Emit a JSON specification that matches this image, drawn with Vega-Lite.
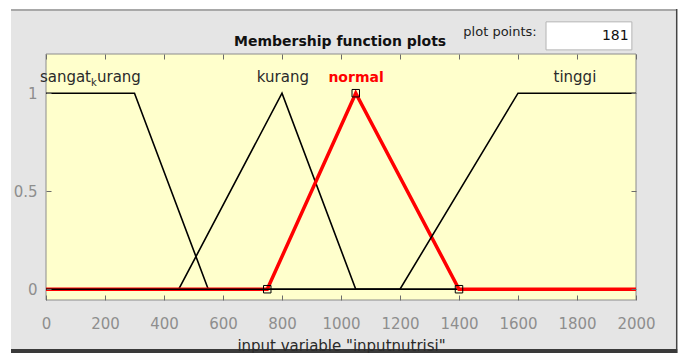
{
  "$schema": "https://vega.github.io/schema/vega-lite/v6.json",
  "width": 590,
  "height": 246,
  "autosize": {"type": "none"},
  "padding": {"left": 46, "top": 54, "right": 47, "bottom": 53},
  "background": "white",
  "config": {
    "view": {"stroke": null},
    "font": "DejaVu Sans",
    "axis": {
      "labelFont": "DejaVu Sans",
      "titleFont": "DejaVu Sans",
      "grid": false,
      "domain": false,
      "tickColor": "#6b6b6b",
      "tickWidth": 1,
      "tickSize": -5,
      "labelColor": "#8e8e8e",
      "labelFontSize": 15,
      "labelFlush": false,
      "labelOverlap": false
    }
  },
  "datasets": {
    "mf": [
      {"name": "sangat_kurang", "x": 0, "y": 1},
      {"name": "sangat_kurang", "x": 300, "y": 1},
      {"name": "sangat_kurang", "x": 550, "y": 0},
      {"name": "sangat_kurang", "x": 2000, "y": 0},
      {"name": "kurang", "x": 0, "y": 0},
      {"name": "kurang", "x": 450, "y": 0},
      {"name": "kurang", "x": 800, "y": 1},
      {"name": "kurang", "x": 1050, "y": 0},
      {"name": "kurang", "x": 2000, "y": 0},
      {"name": "normal", "x": 0, "y": 0},
      {"name": "normal", "x": 750, "y": 0},
      {"name": "normal", "x": 1050, "y": 1},
      {"name": "normal", "x": 1400, "y": 0},
      {"name": "normal", "x": 2000, "y": 0},
      {"name": "tinggi", "x": 0, "y": 0},
      {"name": "tinggi", "x": 1200, "y": 0},
      {"name": "tinggi", "x": 1600, "y": 1},
      {"name": "tinggi", "x": 2000, "y": 1}
    ],
    "labels": [
      {"name": "kurang", "x": 803},
      {"name": "tinggi", "x": 1793}
    ],
    "one": [{}]
  },
  "data": {"name": "mf"},
  "resolve": {"axis": {"x": "independent", "y": "independent"}},
  "layer": [
    {
      "data": {"name": "one"},
      "mark": {"type": "rect", "fill": "#e5e5e5", "clip": false},
      "encoding": {
        "x": {"datum": -118.6, "type": "quantitative", "scale": {"domain": [0, 2000], "nice": false, "zero": false}, "axis": null},
        "x2": {"datum": 2135.6},
        "y": {"datum": -0.305, "type": "quantitative", "scale": {"domain": [-0.055, 1.2], "nice": false, "zero": false}, "axis": null},
        "y2": {"datum": 1.425}
      }
    },
    {
      "data": {"name": "one"},
      "mark": {"type": "rect", "fill": "#3a3a3a", "clip": false},
      "encoding": {
        "x": {"datum": -118.6, "type": "quantitative", "scale": {"domain": [0, 2000], "nice": false, "zero": false}, "axis": null},
        "x2": {"datum": 2141},
        "y": {"datum": -0.36, "type": "quantitative", "scale": {"domain": [-0.055, 1.2], "nice": false, "zero": false}, "axis": null},
        "y2": {"datum": -0.305}
      }
    },
    {
      "data": {"name": "one"},
      "mark": {"type": "rule", "stroke": "#a8a8a8", "strokeWidth": 2, "clip": false},
      "encoding": {
        "x": {"datum": -118.6, "type": "quantitative", "scale": {"domain": [0, 2000], "nice": false, "zero": false}, "axis": null},
        "x2": {"datum": 2135.6},
        "y": {"datum": 1.425, "type": "quantitative", "scale": {"domain": [-0.055, 1.2], "nice": false, "zero": false}, "axis": null}
      }
    },
    {
      "data": {"name": "one"},
      "mark": {"type": "rule", "stroke": "#444444", "strokeWidth": 1.5, "clip": false},
      "encoding": {
        "x": {"datum": 2138, "type": "quantitative", "scale": {"domain": [0, 2000], "nice": false, "zero": false}, "axis": null},
        "y": {"datum": -0.305, "type": "quantitative", "scale": {"domain": [-0.055, 1.2], "nice": false, "zero": false}, "axis": null},
        "y2": {"datum": 1.43}
      }
    },
    {
      "data": {"name": "one"},
      "mark": {"type": "rect", "fill": "white", "stroke": "#b4b4b4", "strokeWidth": 1, "clip": false},
      "encoding": {
        "x": {"datum": 1695, "type": "quantitative", "scale": {"domain": [0, 2000], "nice": false, "zero": false}, "axis": null},
        "x2": {"datum": 1986},
        "y": {"datum": 1.221, "type": "quantitative", "scale": {"domain": [-0.055, 1.2], "nice": false, "zero": false}, "axis": null},
        "y2": {"datum": 1.364}
      }
    },
    {
      "data": {"name": "one"},
      "mark": {"type": "text", "text": "plot points:", "fontSize": 13, "color": "#222222", "align": "center", "baseline": "middle", "clip": false},
      "encoding": {
        "x": {"datum": 1539, "type": "quantitative", "scale": {"domain": [0, 2000], "nice": false, "zero": false}, "axis": null},
        "y": {"datum": 1.31, "type": "quantitative", "scale": {"domain": [-0.055, 1.2], "nice": false, "zero": false}, "axis": null}
      }
    },
    {
      "data": {"name": "one"},
      "mark": {"type": "text", "text": "181", "fontSize": 14, "color": "#111111", "align": "right", "baseline": "middle", "clip": false},
      "encoding": {
        "x": {"datum": 1975, "type": "quantitative", "scale": {"domain": [0, 2000], "nice": false, "zero": false}, "axis": null},
        "y": {"datum": 1.29, "type": "quantitative", "scale": {"domain": [-0.055, 1.2], "nice": false, "zero": false}, "axis": null}
      }
    },
    {
      "data": {"name": "one"},
      "mark": {"type": "text", "text": "Membership function plots", "fontSize": 14, "fontWeight": "bold", "color": "#111111", "align": "center", "baseline": "alphabetic", "clip": false},
      "encoding": {
        "x": {"datum": 997, "type": "quantitative", "scale": {"domain": [0, 2000], "nice": false, "zero": false}, "axis": null},
        "y": {"datum": 1.24, "type": "quantitative", "scale": {"domain": [-0.055, 1.2], "nice": false, "zero": false}, "axis": null}
      }
    },
    {
      "data": {"name": "one"},
      "mark": {"type": "rect", "fill": "#ffffcc", "stroke": "#8c8c8c", "strokeWidth": 1, "clip": false},
      "encoding": {
        "x": {"datum": 0, "type": "quantitative", "scale": {"domain": [0, 2000], "nice": false, "zero": false},
          "axis": {"orient": "bottom", "zindex": 2, "format": "d", "values": [0, 200, 400, 600, 800, 1000, 1200, 1400, 1600, 1800, 2000], "labelPadding": 21, "title": "input variable \"inputnutrisi\"", "titleFontSize": 15, "titleFontWeight": "normal", "titleColor": "#2a2a2a", "titlePadding": 7}},
        "x2": {"datum": 2000},
        "y": {"datum": -0.055, "type": "quantitative", "scale": {"domain": [-0.055, 1.2], "nice": false, "zero": false},
          "axis": {"orient": "left", "zindex": 2, "format": "~g", "values": [0, 0.5, 1], "labelPadding": 14, "title": null}},
        "y2": {"datum": 1.2}
      }
    },
    {
      "transform": [{"filter": "datum.name == 'sangat_kurang' || datum.name == 'kurang'"}],
      "mark": {"type": "line", "stroke": "#000000", "strokeWidth": 1.6},
      "encoding": {
        "x": {"field": "x", "type": "quantitative", "scale": {"domain": [0, 2000], "nice": false, "zero": false},
          "axis": {"orient": "top", "zindex": 2, "values": [0, 200, 400, 600, 800, 1000, 1200, 1400, 1600, 1800, 2000], "labels": false, "title": null}},
        "y": {"field": "y", "type": "quantitative", "scale": {"domain": [-0.055, 1.2], "nice": false, "zero": false},
          "axis": {"orient": "right", "zindex": 2, "values": [0, 0.5, 1], "labels": false, "title": null}},
        "detail": {"field": "name"}
      }
    },
    {
      "transform": [{"filter": "datum.name == 'normal'"}],
      "mark": {"type": "line", "stroke": "#ff0000", "strokeWidth": 3.5},
      "encoding": {
        "x": {"field": "x", "type": "quantitative", "scale": {"domain": [0, 2000], "nice": false, "zero": false}, "axis": null},
        "y": {"field": "y", "type": "quantitative", "scale": {"domain": [-0.055, 1.2], "nice": false, "zero": false}, "axis": null}
      }
    },
    {
      "transform": [{"filter": "datum.name == 'tinggi'"}],
      "mark": {"type": "line", "stroke": "#000000", "strokeWidth": 1.6},
      "encoding": {
        "x": {"field": "x", "type": "quantitative", "scale": {"domain": [0, 2000], "nice": false, "zero": false}, "axis": null},
        "y": {"field": "y", "type": "quantitative", "scale": {"domain": [-0.055, 1.2], "nice": false, "zero": false}, "axis": null}
      }
    },
    {
      "transform": [{"filter": "datum.name == 'normal' && datum.x > 0 && datum.x < 2000"}],
      "mark": {"type": "point", "shape": "square", "filled": false, "stroke": "#000000", "strokeWidth": 1, "size": 56, "opacity": 1},
      "encoding": {
        "x": {"field": "x", "type": "quantitative", "scale": {"domain": [0, 2000], "nice": false, "zero": false}, "axis": null},
        "y": {"field": "y", "type": "quantitative", "scale": {"domain": [-0.055, 1.2], "nice": false, "zero": false}, "axis": null}
      }
    },
    {
      "data": {"name": "labels"},
      "mark": {"type": "text", "fontSize": 15, "color": "#2a2a2a", "align": "center", "baseline": "alphabetic"},
      "encoding": {
        "x": {"field": "x", "type": "quantitative", "scale": {"domain": [0, 2000], "nice": false, "zero": false}, "axis": null},
        "y": {"datum": 1.055, "type": "quantitative", "scale": {"domain": [-0.055, 1.2], "nice": false, "zero": false}, "axis": null},
        "text": {"field": "name"}
      }
    },
    {
      "data": {"name": "one"},
      "mark": {"type": "text", "text": "normal", "fontSize": 14, "fontWeight": "bold", "color": "#ff0000", "align": "center", "baseline": "alphabetic"},
      "encoding": {
        "x": {"datum": 1051, "type": "quantitative", "scale": {"domain": [0, 2000], "nice": false, "zero": false}, "axis": null},
        "y": {"datum": 1.055, "type": "quantitative", "scale": {"domain": [-0.055, 1.2], "nice": false, "zero": false}, "axis": null}
      }
    },
    {
      "data": {"name": "one"},
      "mark": {"type": "text", "text": "sangat", "fontSize": 15, "color": "#2a2a2a", "align": "right", "baseline": "alphabetic"},
      "encoding": {
        "x": {"datum": 152.5, "type": "quantitative", "scale": {"domain": [0, 2000], "nice": false, "zero": false}, "axis": null},
        "y": {"datum": 1.055, "type": "quantitative", "scale": {"domain": [-0.055, 1.2], "nice": false, "zero": false}, "axis": null}
      }
    },
    {
      "data": {"name": "one"},
      "mark": {"type": "text", "text": "k", "fontSize": 10, "color": "#2a2a2a", "align": "left", "baseline": "alphabetic", "dy": 4},
      "encoding": {
        "x": {"datum": 152.5, "type": "quantitative", "scale": {"domain": [0, 2000], "nice": false, "zero": false}, "axis": null},
        "y": {"datum": 1.055, "type": "quantitative", "scale": {"domain": [-0.055, 1.2], "nice": false, "zero": false}, "axis": null}
      }
    },
    {
      "data": {"name": "one"},
      "mark": {"type": "text", "text": "urang", "fontSize": 15, "color": "#2a2a2a", "align": "left", "baseline": "alphabetic", "dx": 6},
      "encoding": {
        "x": {"datum": 152.5, "type": "quantitative", "scale": {"domain": [0, 2000], "nice": false, "zero": false}, "axis": null},
        "y": {"datum": 1.055, "type": "quantitative", "scale": {"domain": [-0.055, 1.2], "nice": false, "zero": false}, "axis": null}
      }
    }
  ]
}
